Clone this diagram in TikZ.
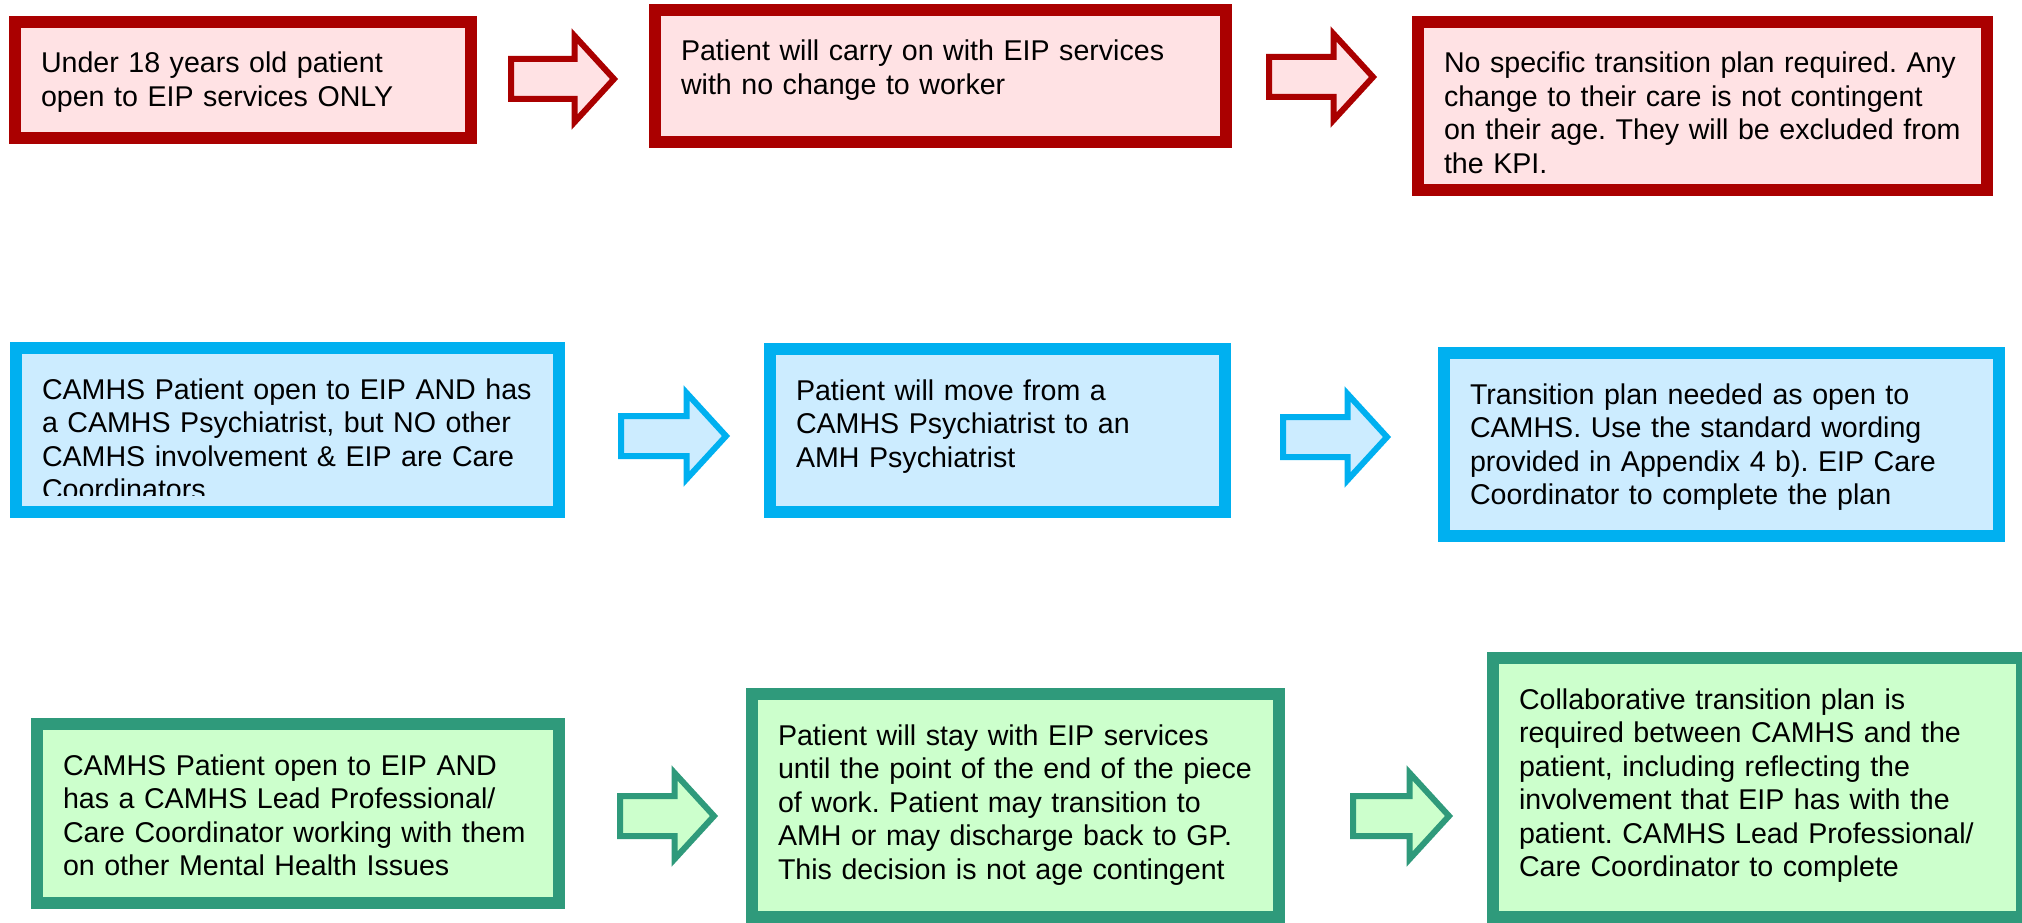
\documentclass[tikz,border=0pt]{standalone}
\usepackage{fontspec}
\setmainfont{Liberation Sans}
\usetikzlibrary{shapes.arrows,calc}
\definecolor{RedLine}{HTML}{AA0000}
\definecolor{RedFill}{HTML}{FFE2E4}
\definecolor{BlueLine}{HTML}{00B0F0}
\definecolor{BlueFill}{HTML}{CCECFF}
\definecolor{GreenLine}{HTML}{2F9A7B}
\definecolor{GreenFill}{HTML}{CCFFCC}
\tikzstyle{boxbase} = [rectangle, anchor=north west, line width=12pt, align=left, inner xsep=26pt, inner ysep=31pt, text height=20pt, font=\fontsize{28.6pt}{33.5pt}\selectfont\frenchspacing]
\tikzstyle{redbox} = [boxbase, draw=RedLine, fill=RedFill]
\tikzstyle{bluebox} = [boxbase, draw=BlueLine, fill=BlueFill]
\tikzstyle{greenbox} = [boxbase, draw=GreenLine, fill=GreenFill]
\tikzstyle{arrbase} = [single arrow, anchor=tail, line width=6pt, inner xsep=0pt, inner ysep=17pt, single arrow head extend=23pt, single arrow tip angle=95]
\tikzstyle{redarr} = [arrbase, draw=RedLine, fill=RedFill]
\tikzstyle{bluearr} = [arrbase, draw=BlueLine, fill=BlueFill]
\tikzstyle{greenarr} = [arrbase, draw=GreenLine, fill=GreenFill]

\begin{document}
\begin{tikzpicture}[x=1pt,y=-1pt]
\useasboundingbox (0,0) rectangle (2022,923);
% under 18, EIP only
\node[redbox, text width=404pt, text depth=34pt] (a1) at (9,16) {Under 18 years old patient\\open to EIP services ONLY};
\node[redbox, text width=519pt, text depth=50pt] (a2) at (649,4) {Patient will carry on with EIP services\\with no change to worker};
\node[redbox, text width=517pt, text depth=86pt] (a3) at (1412,16) {No specific transition plan required. Any\\change to their care is not contingent\\on their age. They will be excluded from\\the KPI.};
\node[redarr, minimum height=103pt] (a12) at (508,79) {};
\node[redarr, minimum height=104pt] (a23) at (1266,77) {};
% CAMHS psychiatrist only
\node[bluebox, text width=491pt, text depth=82pt] (b1) at (10,342) {CAMHS Patient open to EIP AND has\\a CAMHS Psychiatrist, but NO other\\CAMHS involvement \& EIP are Care\\Coordinators};
\fill[BlueFill] ($(b1.south west)+(12,-12)$) rectangle ($(b1.south east)+(-12,-22)$);
\node[bluebox, text width=403pt, text depth=81pt] (b2) at (764,343) {Patient will move from a\\CAMHS Psychiatrist to an\\AMH Psychiatrist};
\node[bluebox, text width=503pt, text depth=101pt] (b3) at (1438,347) {Transition plan needed as open to\\CAMHS. Use the standard wording\\provided in Appendix 4 b). EIP Care\\Coordinator to complete the plan};
\node[bluearr, minimum height=105pt] (b12) at (618,436) {};
\node[bluearr, minimum height=104pt] (b23) at (1280,437) {};
% CAMHS lead professional
\node[greenbox, text width=470pt, text depth=97pt] (c1) at (31,718) {CAMHS Patient open to EIP AND\\has a CAMHS Lead Professional/\\Care Coordinator working with them\\on other Mental Health Issues};
\node[greenbox, text width=475pt, text depth=141pt] (c2) at (746,688) {Patient will stay with EIP services\\until the point of the end of the piece\\of work. Patient may transition to\\AMH or may discharge back to GP.\\This decision is not age contingent};
\node[greenbox, text width=477pt, text depth=177pt] (c3) at (1487,652) {Collaborative transition plan is\\required between CAMHS and the\\patient, including reflecting the\\involvement that EIP has with the\\patient. CAMHS Lead Professional/\\Care Coordinator to complete};
\node[greenarr, minimum height=94pt] (c12) at (617,816) {};
\node[greenarr, minimum height=96pt] (c23) at (1350,816) {};
\end{tikzpicture}
\end{document}
